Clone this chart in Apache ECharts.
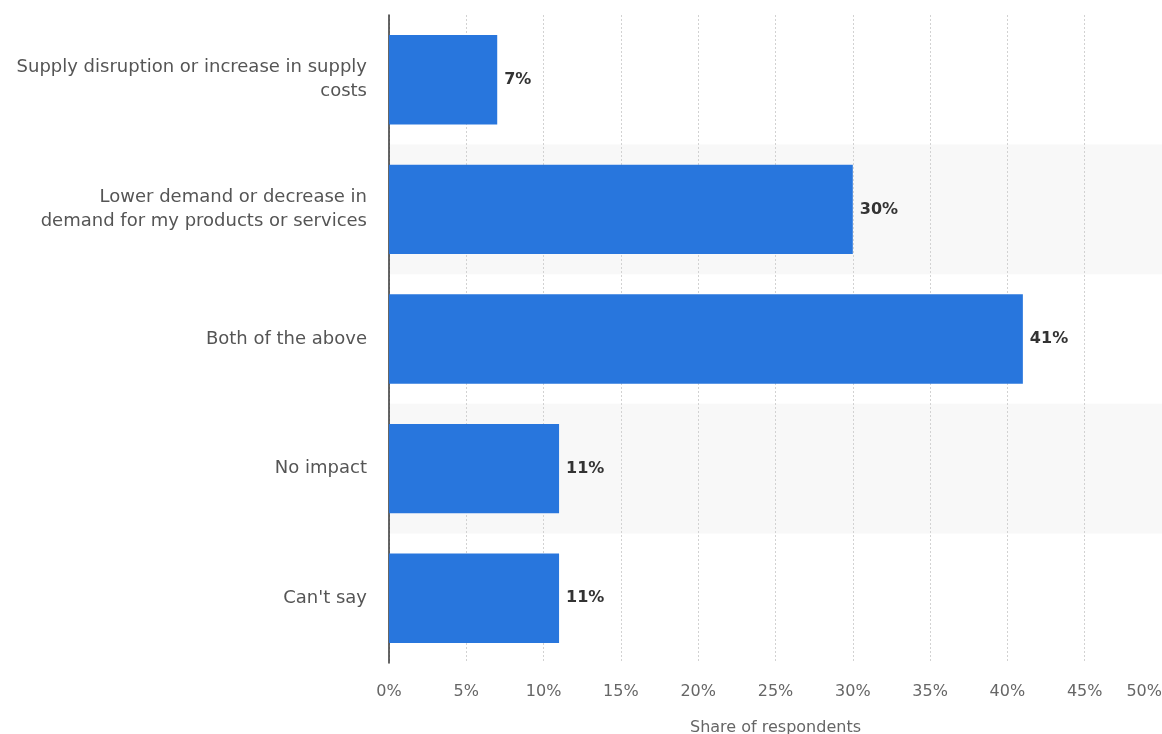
<!DOCTYPE html>
<html>
<head>
<meta charset="utf-8">
<script src="https://cdn.jsdelivr.net/npm/echarts@6/dist/echarts.min.js"></script>
<style>
	html, body { margin: 0; padding: 0; background: #fff; }
	#main { width: 1162px; height: 734px; }
</style>
</head>
<body>
<div id="main"></div>
<script>
var categories = [
	'Supply disruption or increase in supply\ncosts',
	'Lower demand or decrease in\ndemand for my products or services',
	'Both of the above',
	'No impact',
	"Can't say"
];
var shares = [7, 30, 41, 11, 11];
var xTicks = [0, 5, 10, 15, 20, 25, 30, 35, 40, 45, 50];

var myChart = echarts.init(document.getElementById('main'));
var option = {
	animation: false,
	textStyle: { fontFamily: 'DejaVu Sans' },
	grid: { left: 389, right: 0, top: 15, bottom: 71, outerBoundsMode: 'none' },
	xAxis: {
		type: 'value',
		min: xTicks[0],
		max: xTicks[xTicks.length - 1],
		interval: 5,
		name: 'Share of respondents',
		nameLocation: 'middle',
		nameGap: 57,
		nameTextStyle: { color: '#666', fontSize: 16 },
		axisLine: { show: false },
		axisTick: { show: false },
		axisLabel: {
			color: '#666',
			fontSize: 16,
			margin: 21,
			alignMaxLabel: 'right',
			formatter: '{value}%'
		},
		splitLine: {
			show: true,
			lineStyle: { color: '#d2d2d2', type: [2, 2], width: 1 }
		}
	},
	yAxis: {
		type: 'category',
		inverse: true,
		data: categories,
		axisLine: { show: true, lineStyle: { color: '#333', width: 1.5 } },
		axisTick: { show: false },
		axisLabel: {
			color: '#555',
			fontSize: 18,
			margin: 22,
			lineHeight: 24,
			align: 'right',
			padding: [3, 0, 0, 0]
		},
		splitArea: {
			show: true,
			areaStyle: { color: ['rgba(0,0,0,0)', '#f8f8f8'] }
		}
	},
	series: [{
		type: 'bar',
		data: shares,
		barWidth: '69%',
		itemStyle: { color: '#2876dd' },
		label: {
			show: true,
			position: 'right',
			distance: 7,
			color: '#333',
			fontSize: 16,
			fontWeight: 'bold',
			formatter: '{c}%'
		}
	}]
};
myChart.setOption(option);
</script>
</body>
</html>
